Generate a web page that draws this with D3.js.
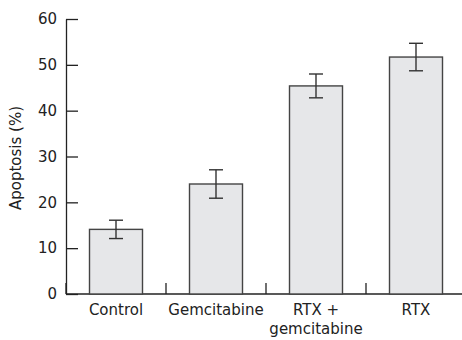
<!DOCTYPE html>
<html>
<head>
<meta charset="utf-8">
<script src="https://cdn.jsdelivr.net/npm/d3@7"></script>
<style>
  body { margin: 0; background: #fff; }
  svg text { font-family: "DejaVu Sans", sans-serif; fill: #222; }
</style>
</head>
<body>
<svg width="462" height="340"></svg>
<script>
// values
var categories = ["Control", "Gemcitabine", "RTX +\ngemcitabine", "RTX"];
var apoptosis = [14.1, 24.0, 45.4, 51.7];
var errors = [2.0, 3.1, 2.6, 3.0];
var yTicks = [0, 10, 20, 30, 40, 50, 60];

var svg = d3.select("svg");
var plotLeft = 66, plotRight = 466, plotTop = 19, plotBottom = 294;

var x = d3.scaleBand()
    .domain(categories)
    .range([plotLeft, plotRight])
    .paddingInner(0.47)
    .paddingOuter(0.235);

var y = d3.scaleLinear().domain([0, 60]).range([plotBottom, plotTop]);

var rows = categories.map(function(c, i) {
  return {name: c, value: apoptosis[i], err: errors[i]};
});

// y axis, ticks pointing inward
var yAxis = svg.append("g")
    .attr("transform", "translate(" + plotLeft + ",0)")
    .call(d3.axisLeft(y).tickValues(yTicks).tickSize(-12).tickSizeOuter(0).tickPadding(9));
yAxis.select(".domain").attr("stroke", "#222").attr("stroke-width", 1.3);
yAxis.selectAll(".tick line").attr("stroke", "#222").attr("stroke-width", 1.3);
yAxis.selectAll(".tick text")
    .style("font-family", "DejaVu Sans, sans-serif")
    .style("font-size", "15px")
    .attr("fill", "#222");

// baseline
svg.append("line")
    .attr("x1", plotLeft).attr("x2", plotRight)
    .attr("y1", y(0)).attr("y2", y(0))
    .attr("stroke", "#222").attr("stroke-width", 1.3);

// category separators
var step = x.step();
d3.range(categories.length + 1).forEach(function(i) {
  var xx = plotLeft + i * step;
  svg.append("line")
      .attr("x1", xx).attr("x2", xx)
      .attr("y1", y(0)).attr("y2", y(0) - 11)
      .attr("stroke", "#222").attr("stroke-width", 1.3);
});

// bars
svg.append("g").selectAll("rect")
    .data(rows)
    .enter().append("rect")
    .attr("x", function(d) { return x(d.name); })
    .attr("y", function(d) { return y(d.value); })
    .attr("width", x.bandwidth())
    .attr("height", function(d) { return y(0) - y(d.value); })
    .attr("fill", "#e6e7e9")
    .attr("stroke", "#444")
    .attr("stroke-width", 1.4);

// error bars
var eb = svg.append("g").selectAll("g")
    .data(rows)
    .enter().append("g")
    .attr("stroke", "#333")
    .attr("stroke-width", 1.4);
eb.append("line")
    .attr("x1", function(d) { return x(d.name) + x.bandwidth() / 2; })
    .attr("x2", function(d) { return x(d.name) + x.bandwidth() / 2; })
    .attr("y1", function(d) { return y(d.value + d.err); })
    .attr("y2", function(d) { return y(d.value - d.err); });
[1, -1].forEach(function(s) {
  eb.append("line")
      .attr("x1", function(d) { return x(d.name) + x.bandwidth() / 2 - 7; })
      .attr("x2", function(d) { return x(d.name) + x.bandwidth() / 2 + 7; })
      .attr("y1", function(d) { return y(d.value + s * d.err); })
      .attr("y2", function(d) { return y(d.value + s * d.err); });
});

// category labels
svg.append("g").selectAll("text")
    .data(rows)
    .enter().append("text")
    .attr("x", function(d) { return x(d.name) + x.bandwidth() / 2; })
    .attr("y", 315)
    .attr("text-anchor", "middle")
    .style("font-size", "15px")
    .each(function(d) {
      var lines = d.name.split("\n");
      var t = d3.select(this);
      lines.forEach(function(l, i) {
        t.append("tspan")
            .attr("x", x(d.name) + x.bandwidth() / 2)
            .attr("dy", i ? 19 : 0)
            .text(l);
      });
    });

// y label
svg.append("text")
    .attr("transform", "translate(21," + 158 + ")rotate(-90)")
    .attr("text-anchor", "middle")
    .style("font-size", "15px")
    .text("Apoptosis (%)");
</script>
</body>
</html>
